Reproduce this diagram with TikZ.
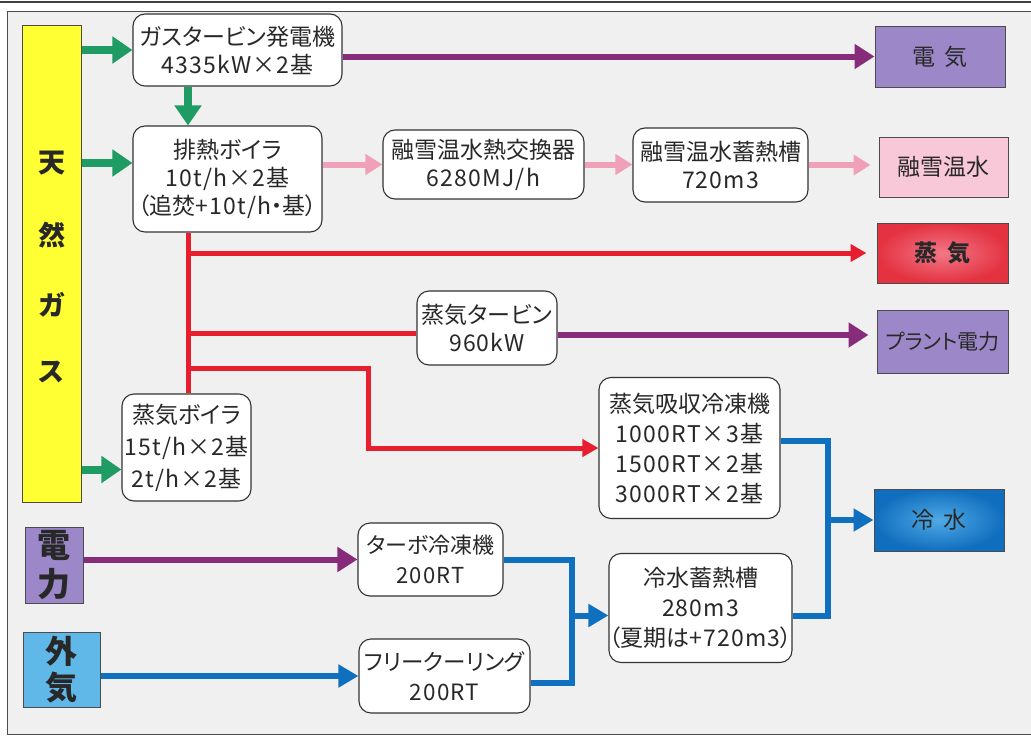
\documentclass[tikz,border=0pt]{standalone}
\usepackage{fontspec}
\setmainfont{Noto Sans CJK JP}[RawFeature=+palt]
\newfontfamily\jpw{Noto Sans CJK JP}[LetterSpace=5]
\usetikzlibrary{arrows.meta,calc}
\definecolor{gcol}{RGB}{30,156,100}
\definecolor{pcol}{RGB}{134,44,122}
\definecolor{pkcol}{RGB}{240,160,184}
\definecolor{rcol}{RGB}{230,30,45}
\definecolor{bcol}{RGB}{16,112,192}
\definecolor{ycol}{RGB}{255,255,51}
\definecolor{purbox}{RGB}{156,136,200}
\definecolor{pinkbox}{RGB}{248,200,216}
\definecolor{oabox}{RGB}{96,184,232}
\definecolor{bgcol}{RGB}{240,240,240}
\definecolor{txt}{RGB}{40,40,40}
\tikzset{
  box/.style={draw=black!80, line width=1.1pt, rounded corners=12pt, fill=white, align=center,
    inner sep=0pt, text=txt, font=\fontsize{23}{28}\selectfont},
  sq/.style={draw=black!70, line width=1pt, align=center, inner sep=0pt, text=txt,
    font=\fontsize{23}{29}\selectfont},
  bigch/.style={inner sep=0pt, text=txt, font=\bfseries\fontsize{27}{30}\selectfont},
  garrow/.style={draw=gcol, line width=8pt, -{Triangle[length=20pt,width=26pt]}},
  parrow/.style={draw=pcol, line width=6pt, -{Triangle[length=20pt,width=24pt]}},
  pkarrow/.style={draw=pkcol, line width=6pt, -{Triangle[length=17pt,width=20pt]}},
  rline/.style={draw=rcol, line width=5pt},
  rarrow/.style={rline, -{Triangle[length=16pt,width=17pt]}},
  bline/.style={draw=bcol, line width=6pt},
  barrow/.style={bline, -{Triangle[length=20pt,width=22pt]}},
}
\begin{document}
\begin{tikzpicture}[x=1pt,y=-1pt]
\useasboundingbox (0,0) rectangle (1031,736);
\fill[white] (0,0) rectangle (1031,736);
\fill[bgcol] (7,11) rectangle (1031,734);
\draw[black!75, line width=1.6pt] (0,2) -- (1031,2);
\draw[black!70, line width=1pt] (1031,11) -- (7,11) -- (7,734) -- (1031,734);

% source boxes
\node[sq, fill=ycol, minimum width=59pt, minimum height=477pt] (gas) at (51.5,263.5) {};
\node[bigch] (g1) at (51.5,163) {天};
\node[bigch] (g2) at (51.5,235) {然};
\node[bigch] (g3) at (51.5,305) {ガ};
\node[bigch] (g4) at (51.5,372) {ス};
\node[sq, fill=purbox, minimum width=58pt, minimum height=76pt,
  font=\bfseries\fontsize{33}{39}\selectfont] (pw) at (54,565) {電\\力};
\node[sq, fill=oabox, minimum width=77pt, minimum height=75pt,
  font=\bfseries\fontsize{32}{36}\selectfont] (oa) at (61.5,669.5) {外\\気};

% equipment boxes
\node[box, minimum width=209pt, minimum height=72pt] (gt) at (237.5,50)
  {ガスタービン発電機\\{\jpw 4335kW×2基}};
\node[box, minimum width=189pt, minimum height=106pt] (hb) at (227.5,179)
  {排熱ボイラ\\{\jpw 10t/h×2基}\\（追焚{\jpw +10t/h}・基）};
\node[box, minimum width=201pt, minimum height=69pt] (hx) at (483.5,164.5)
  {融雪温水熱交換器\\{\jpw 6280MJ/h}};
\node[box, minimum width=175pt, minimum height=74pt] (ht) at (720.5,165)
  {融雪温水蓄熱槽\\{\jpw 720m3}};
\node[box, minimum width=140pt, minimum height=74pt] (st) at (487,328)
  {蒸気タービン\\{\jpw 960kW}};
\node[box, minimum width=129pt, minimum height=107pt, font=\fontsize{23}{32}\selectfont] (sb) at (186.5,447.5)
  {蒸気ボイラ\\{\jpw 15t/h×2基}\\{\jpw 2t/h×2基}};
\node[box, minimum width=181pt, minimum height=141pt, font=\fontsize{23}{30}\selectfont] (ab) at (689.5,448)
  {蒸気吸収冷凍機\\{\jpw 1000RT×3基}\\{\jpw 1500RT×2基}\\{\jpw 3000RT×2基}};
\node[box, minimum width=145pt, minimum height=73pt, font=\fontsize{22}{30}\selectfont] (tb) at (430.5,559.5)
  {ターボ冷凍機\\{\jpw 200RT}};
\node[box, minimum width=171pt, minimum height=74pt, font=\fontsize{22.5}{30}\selectfont] (fc) at (444.5,676)
  {フリークーリング\\{\jpw 200RT}};
\node[box, minimum width=183pt, minimum height=109pt, font=\fontsize{23}{30}\selectfont] (cs) at (700.5,608)
  {冷水蓄熱槽\\{\jpw 280m3}\\（夏期は{\jpw +720m3}）};

% output boxes
\node[sq, fill=purbox, minimum width=130pt, minimum height=61pt] (elec) at (940,56.5) {電\hspace{10pt}気};
\node[sq, fill=pinkbox, minimum width=129pt, minimum height=60pt] (snow) at (943.5,167) {融雪温水};
\node[sq, draw=black!70, inner color={rgb,255:red,242;green,120;blue,135}, outer color={rgb,255:red,228;green,50;blue,65},
  minimum width=131pt, minimum height=60pt] (steam) at (942.5,253) {\bfseries 蒸\hspace{10pt}気};
\node[sq, fill=purbox, minimum width=131pt, minimum height=63pt, font=\fontsize{21}{29}\selectfont] (plant) at (942.5,341.5) {プラント電力};
\node[sq, draw=black!70, inner color={rgb,255:red,80;green,170;blue,230}, outer color={rgb,255:red,16;green,110;blue,190},
  minimum width=130pt, minimum height=62pt] (cold) at (939,520) {冷\hspace{10pt}水};

% helper coordinates
\coordinate (rv) at (188,0);
\coordinate (rk) at (368,368);
\coordinate (bv) at (828,0);
\coordinate (bl) at (572,0);
\coordinate (abo) at ([yshift=7.5pt]ab.east);
\coordinate (cso) at ([yshift=-7.5pt]cs.east);
\coordinate (csi) at ([yshift=-7.5pt]cs.west);
\coordinate (fco) at ([yshift=-7pt]fc.east);
\coordinate (sto) at ([yshift=-7pt]st.east);
\coordinate (sti) at ([yshift=-5pt]st.west);

% green (gas)
\draw[garrow] (gas.east |- gt.west) -- (gt.west);
\draw[garrow] ([yshift=16pt]gas.east |- hb.west) -- ([yshift=16pt]hb.west);
\draw[garrow] ([yshift=-22pt]gas.east |- sb.west) -- ([yshift=-22pt]sb.west);
\draw[garrow] (gt.south -| rv) -- (hb.north -| rv);

% purple (electricity)
\draw[parrow] (gt.east |- elec.west) -- (elec.west);
\draw[parrow, shorten >=8pt] (sto) -- (sto -| plant.west);
\draw[parrow] (pw.east |- tb.west) -- (tb.west);

% pink (snow melting water)
\draw[pkarrow] (hb.east |- hx.west) -- (hx.west);
\draw[pkarrow] (hx.east) -- (hx.east -| ht.west);
\draw[pkarrow, shorten >=8pt] (ht.east) -- (ht.east -| snow.west);

% red (steam)
\draw[rline] (hb.south -| rv) -- (sb.north -| rv);
\draw[rarrow, shorten >=10pt] (rv |- steam.west) -- (steam.west);
\draw[rline] (rv |- sti) -- (sti);
\draw[rarrow, line join=miter] (rv |- rk) -- (rk) |- (ab.west);

% blue (chilled water)
\draw[bline, line join=miter] (abo) -| (bv |- cso) -- (cso);
\draw[barrow] ([xshift=-3pt]bv |- cold.west) -- (cold.west);
\draw[bline, line join=miter] (tb.east) -| (bl |- fco) -- (fco);
\draw[barrow] ([xshift=-3pt]bl |- csi) -- (csi);
\draw[barrow] (oa.east |- fc.west) -- (fc.west);
\end{tikzpicture}
\end{document}
